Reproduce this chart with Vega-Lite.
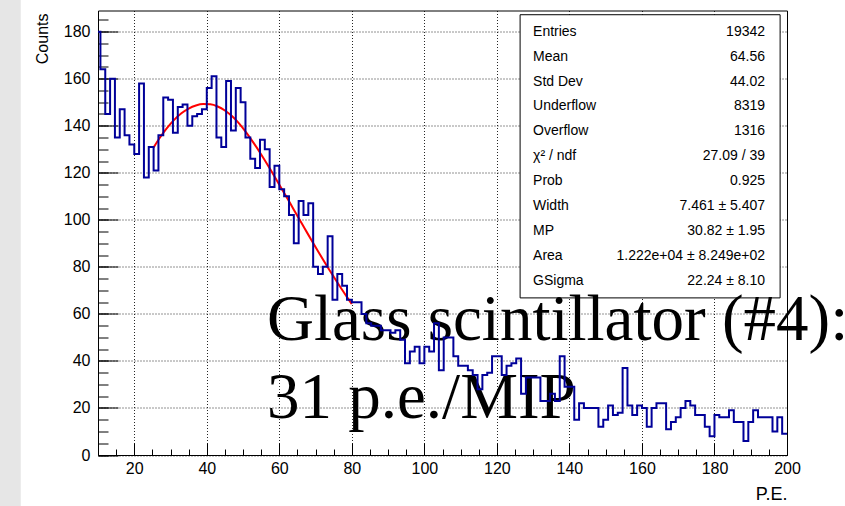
{
  "$schema": "https://vega.github.io/schema/vega-lite/v6.json",
  "width": 689,
  "height": 444.5,
  "autosize": {"type": "none"},
  "padding": {"left": 98, "top": 10.5, "right": 58, "bottom": 51},
  "background": "white",
  "config": {
    "view": {"stroke": "black", "strokeWidth": 1, "fill": null},
    "font": "Liberation Sans",
    "axis": {"domain": false, "labelFont": "Liberation Sans", "titleFont": "Liberation Sans", "labelColor": "black", "titleColor": "black", "tickColor": "black", "titleFontWeight": "normal", "labelFlush": false, "labelOverlap": false}
  },
  "datasets": {
    "hist": [
      {"pe": 10, "counts": 180}, {"pe": 10.667, "counts": 164}, {"pe": 12, "counts": 145}, {"pe": 13.333, "counts": 160},
      {"pe": 14.667, "counts": 135}, {"pe": 16, "counts": 147}, {"pe": 17.333, "counts": 136}, {"pe": 18.667, "counts": 132},
      {"pe": 20, "counts": 128}, {"pe": 21.333, "counts": 158}, {"pe": 22.667, "counts": 118}, {"pe": 24, "counts": 131},
      {"pe": 25.333, "counts": 121}, {"pe": 26.667, "counts": 136}, {"pe": 28, "counts": 152}, {"pe": 29.333, "counts": 151},
      {"pe": 30.667, "counts": 137}, {"pe": 32, "counts": 148}, {"pe": 33.333, "counts": 149}, {"pe": 34.667, "counts": 140},
      {"pe": 36, "counts": 144}, {"pe": 37.333, "counts": 145}, {"pe": 38.667, "counts": 147}, {"pe": 40, "counts": 156},
      {"pe": 41.333, "counts": 161}, {"pe": 42.667, "counts": 135}, {"pe": 44, "counts": 131}, {"pe": 45.333, "counts": 159},
      {"pe": 46.667, "counts": 138}, {"pe": 48, "counts": 156}, {"pe": 49.333, "counts": 150}, {"pe": 50.667, "counts": 135},
      {"pe": 52, "counts": 126}, {"pe": 53.333, "counts": 122}, {"pe": 54.667, "counts": 134}, {"pe": 56, "counts": 130},
      {"pe": 57.333, "counts": 114}, {"pe": 58.667, "counts": 123}, {"pe": 60, "counts": 113}, {"pe": 61.333, "counts": 110},
      {"pe": 62.667, "counts": 102}, {"pe": 64, "counts": 90}, {"pe": 65.333, "counts": 108}, {"pe": 66.667, "counts": 102},
      {"pe": 68, "counts": 107}, {"pe": 69.333, "counts": 80}, {"pe": 70.667, "counts": 77}, {"pe": 72, "counts": 80},
      {"pe": 73.333, "counts": 93}, {"pe": 74.667, "counts": 66}, {"pe": 76, "counts": 77}, {"pe": 77.333, "counts": 72},
      {"pe": 78.667, "counts": 66}, {"pe": 80, "counts": 65}, {"pe": 81.333, "counts": 65}, {"pe": 82.667, "counts": 60},
      {"pe": 84, "counts": 56}, {"pe": 85.333, "counts": 55}, {"pe": 86.667, "counts": 55}, {"pe": 88, "counts": 53},
      {"pe": 89.333, "counts": 53}, {"pe": 90.667, "counts": 52}, {"pe": 92, "counts": 53}, {"pe": 93.333, "counts": 49},
      {"pe": 94.667, "counts": 39}, {"pe": 96, "counts": 44}, {"pe": 97.333, "counts": 46}, {"pe": 98.667, "counts": 39},
      {"pe": 100, "counts": 46}, {"pe": 101.333, "counts": 44}, {"pe": 102.667, "counts": 56}, {"pe": 104, "counts": 36},
      {"pe": 105.333, "counts": 50}, {"pe": 106.667, "counts": 50}, {"pe": 108, "counts": 42}, {"pe": 109.333, "counts": 38},
      {"pe": 110.667, "counts": 38}, {"pe": 112, "counts": 36}, {"pe": 113.333, "counts": 34}, {"pe": 114.667, "counts": 28},
      {"pe": 116, "counts": 34}, {"pe": 117.333, "counts": 35}, {"pe": 118.667, "counts": 42}, {"pe": 120, "counts": 42},
      {"pe": 121.333, "counts": 34}, {"pe": 122.667, "counts": 38}, {"pe": 124, "counts": 39}, {"pe": 125.333, "counts": 41},
      {"pe": 126.667, "counts": 26}, {"pe": 128, "counts": 33}, {"pe": 129.333, "counts": 33}, {"pe": 130.667, "counts": 33},
      {"pe": 132, "counts": 23}, {"pe": 133.333, "counts": 23}, {"pe": 134.667, "counts": 26}, {"pe": 136, "counts": 23},
      {"pe": 137.333, "counts": 42}, {"pe": 138.667, "counts": 29}, {"pe": 140, "counts": 29}, {"pe": 141.333, "counts": 15},
      {"pe": 142.667, "counts": 22}, {"pe": 144, "counts": 20}, {"pe": 145.333, "counts": 20}, {"pe": 146.667, "counts": 20},
      {"pe": 148, "counts": 12}, {"pe": 149.333, "counts": 15}, {"pe": 150.667, "counts": 21}, {"pe": 152, "counts": 17},
      {"pe": 153.333, "counts": 18}, {"pe": 154.667, "counts": 37}, {"pe": 156, "counts": 21}, {"pe": 157.333, "counts": 17},
      {"pe": 158.667, "counts": 21}, {"pe": 160, "counts": 20}, {"pe": 161.333, "counts": 12}, {"pe": 162.667, "counts": 20},
      {"pe": 164, "counts": 22}, {"pe": 165.333, "counts": 22}, {"pe": 166.667, "counts": 11}, {"pe": 168, "counts": 14},
      {"pe": 169.333, "counts": 16}, {"pe": 170.667, "counts": 20}, {"pe": 172, "counts": 23}, {"pe": 173.333, "counts": 21},
      {"pe": 174.667, "counts": 17}, {"pe": 176, "counts": 17}, {"pe": 177.333, "counts": 12}, {"pe": 178.667, "counts": 8},
      {"pe": 180, "counts": 17}, {"pe": 181.333, "counts": 16}, {"pe": 182.667, "counts": 16}, {"pe": 184, "counts": 19},
      {"pe": 185.333, "counts": 14}, {"pe": 186.667, "counts": 14}, {"pe": 188, "counts": 6}, {"pe": 189.333, "counts": 14},
      {"pe": 190.667, "counts": 19}, {"pe": 192, "counts": 16}, {"pe": 193.333, "counts": 16}, {"pe": 194.667, "counts": 16},
      {"pe": 196, "counts": 10}, {"pe": 197.333, "counts": 16}, {"pe": 198.667, "counts": 9}, {"pe": 200, "counts": 9}
    ],
    "fit": [
      {"pe": 25.35, "counts": 130.8}, {"pe": 27, "counts": 134.8}, {"pe": 29, "counts": 139}, {"pe": 31, "counts": 142.5},
      {"pe": 33, "counts": 145.3}, {"pe": 35, "counts": 147.3}, {"pe": 37, "counts": 148.6}, {"pe": 39, "counts": 149.2},
      {"pe": 41, "counts": 149.1}, {"pe": 43, "counts": 148.2}, {"pe": 45, "counts": 146.5}, {"pe": 47, "counts": 144},
      {"pe": 49, "counts": 140.8}, {"pe": 51, "counts": 136.9}, {"pe": 53, "counts": 132.5}, {"pe": 55, "counts": 127.8},
      {"pe": 57, "counts": 122.8}, {"pe": 59, "counts": 117.6}, {"pe": 61, "counts": 112.3}, {"pe": 63, "counts": 107},
      {"pe": 65, "counts": 101.6}, {"pe": 67, "counts": 96.3}, {"pe": 69, "counts": 91}, {"pe": 71, "counts": 85.8},
      {"pe": 73, "counts": 80.7}, {"pe": 75, "counts": 75.8}, {"pe": 77, "counts": 71}, {"pe": 79, "counts": 66.4},
      {"pe": 80, "counts": 64.2}
    ],
    "stats": [
      {"name": "Entries", "value": "19342"},
      {"name": "Mean", "value": "64.56"},
      {"name": "Std Dev", "value": "44.02"},
      {"name": "Underflow", "value": "8319"},
      {"name": "Overflow", "value": "1316"},
      {"name": "χ² / ndf", "value": "27.09 / 39"},
      {"name": "Prob", "value": "0.925"},
      {"name": "Width", "value": "7.461 ± 5.407"},
      {"name": "MP", "value": "30.82 ± 1.95"},
      {"name": "Area", "value": "1.222e+04 ± 8.249e+02"},
      {"name": "GSigma", "value": "22.24 ± 8.10"}
    ]
  },
  "layer": [
    {
      "layer": [
        {
          "data": {"values": [{}]},
          "mark": {"type": "rect", "color": "#e6e6e6", "clip": false},
          "encoding": {
            "x": {"datum": -17.1, "type": "quantitative", "scale": {"domain": [10, 200], "nice": false, "zero": false}, "axis": null},
            "x2": {"datum": -11.3},
            "y": {"datum": 193.7, "type": "quantitative", "scale": {"domain": [0, 189], "nice": false, "zero": false}, "axis": null},
            "y2": {"datum": -21.8}
          }
        },
        {
          "data": {"name": "fit"},
          "mark": {"type": "line", "interpolate": "monotone", "color": "#ff0000", "strokeWidth": 2},
          "encoding": {
            "x": {"field": "pe", "type": "quantitative", "scale": {"domain": [10, 200], "nice": false, "zero": false},
                  "axis": {"orient": "bottom", "values": [10,15,20,25,30,35,40,45,50,55,60,65,70,75,80,85,90,95,100,105,110,115,120,125,130,135,140,145,150,155,160,165,170,175,180,185,190,195,200], "tickSize": -6, "tickWidth": 1, "labels": false, "grid": false, "title": null}},
            "y": {"field": "counts", "type": "quantitative", "scale": {"domain": [0, 189], "nice": false, "zero": false},
                  "axis": {"orient": "left", "values": [0,5,10,15,20,25,30,35,40,45,50,55,60,65,70,75,80,85,90,95,100,105,110,115,120,125,130,135,140,145,150,155,160,165,170,175,180,185], "tickSize": -10, "tickWidth": 1, "labels": false, "grid": false, "title": null}}
          }
        },
        {
          "data": {"values": [{}]},
          "mark": {"type": "rect", "fill": "white", "stroke": "black", "strokeWidth": 1},
          "encoding": {
            "x": {"datum": 126.4, "type": "quantitative", "scale": {"domain": [10, 200], "nice": false, "zero": false}, "axis": null},
            "x2": {"datum": 198.1},
            "y": {"datum": 187.2, "type": "quantitative", "scale": {"domain": [0, 189], "nice": false, "zero": false}, "axis": null},
            "y2": {"datum": 66.8}
          }
        },
        {
          "data": {"values": [{}]},
          "mark": {"type": "text", "font": "Liberation Serif", "fontSize": 65, "align": "left", "baseline": "alphabetic", "lineHeight": 78, "color": "black", "text": ["Glass scintillator (#4):", "31 p.e./MIP"]},
          "encoding": {
            "x": {"datum": 56.6, "type": "quantitative", "scale": {"domain": [10, 200], "nice": false, "zero": false}, "axis": null},
            "y": {"datum": 48.8, "type": "quantitative", "scale": {"domain": [0, 189], "nice": false, "zero": false}, "axis": null}
          }
        },
        {
          "data": {"name": "hist"},
          "mark": {"type": "line", "interpolate": "step-after", "color": "#000099", "strokeWidth": 2},
          "encoding": {
            "x": {"field": "pe", "type": "quantitative", "scale": {"domain": [10, 200], "nice": false, "zero": false},
                  "axis": {"orient": "bottom", "values": [20,40,60,80,100,120,140,160,180,200], "tickSize": -12, "tickWidth": 1, "labelFontSize": 16, "labelPadding": 17,
                           "grid": true, "gridDash": [1, 2], "gridColor": "black", "gridWidth": 1, "gridOpacity": 0.85,
                           "title": "P.E.", "titleFontSize": 18, "titleAnchor": "end", "titleAlign": "right", "titleX": 689, "titleY": 44, "titleBaseline": "alphabetic"}},
            "y": {"field": "counts", "type": "quantitative", "scale": {"domain": [0, 189], "nice": false, "zero": false},
                  "axis": {"orient": "left", "values": [0,20,40,60,80,100,120,140,160,180], "tickSize": -20, "tickWidth": 1, "labelFontSize": 16, "labelPadding": 28,
                           "grid": true, "gridDash": [1, 2], "gridColor": "black", "gridWidth": 1, "gridOpacity": 0.85,
                           "title": "Counts", "titleFontSize": 16, "titleAngle": -90, "titleAlign": "right", "titleX": -51, "titleY": 2.5, "titleBaseline": "alphabetic"}}
          }
        }
      ],
      "resolve": {"axis": {"x": "independent", "y": "independent"}}
    },
    {
      "data": {"name": "stats"},
      "layer": [
        {
          "mark": {"type": "text", "align": "left", "baseline": "middle", "fontSize": 14, "font": "Liberation Sans", "color": "black"},
          "encoding": {
            "x": {"datum": 129.97, "type": "quantitative", "scale": {"domain": [10, 200], "nice": false, "zero": false}, "axis": null},
            "y": {"field": "name", "type": "ordinal", "scale": {"type": "point", "domain": ["Entries", "Mean", "Std Dev", "Underflow", "Overflow", "χ² / ndf", "Prob", "Width", "MP", "Area", "GSigma"], "range": [21.2, 270.2], "padding": 0}, "axis": null},
            "text": {"field": "name"}
          }
        },
        {
          "mark": {"type": "text", "align": "right", "baseline": "middle", "fontSize": 14, "font": "Liberation Sans", "color": "black"},
          "encoding": {
            "x": {"datum": 193.95, "type": "quantitative", "scale": {"domain": [10, 200], "nice": false, "zero": false}, "axis": null},
            "y": {"field": "name", "type": "ordinal", "scale": {"type": "point", "domain": ["Entries", "Mean", "Std Dev", "Underflow", "Overflow", "χ² / ndf", "Prob", "Width", "MP", "Area", "GSigma"], "range": [21.2, 270.2], "padding": 0}, "axis": null},
            "text": {"field": "value"}
          }
        }
      ]
    }
  ],
  "resolve": {"scale": {"y": "independent"}}
}
